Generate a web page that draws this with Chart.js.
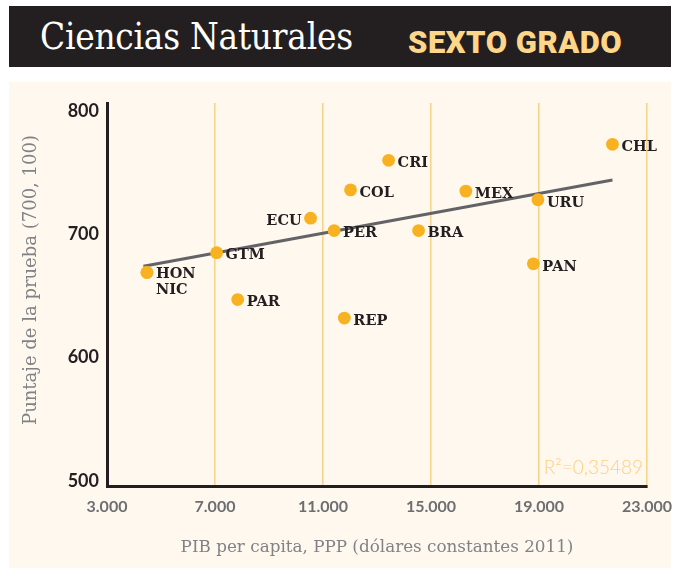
<!DOCTYPE html>
<html>
<head>
<meta charset="utf-8">
<script src="https://cdn.jsdelivr.net/npm/chart.js@4.4.0/dist/chart.umd.min.js"></script>
<style>
  html, body { margin:0; padding:0; background:#ffffff; }
  body { width:679px; height:571px; position:relative; overflow:hidden; }
  #band { position:absolute; left:9px; top:6px; width:662px; height:61px; background:#231f20; }
  #title { position:absolute; left:31px; top:9px; font-family:"DejaVu Serif"; font-size:37px; color:#ffffff; white-space:nowrap; transform-origin:left top; transform:scaleX(0.89); letter-spacing:-0.3px; }
  #grade { position:absolute; left:399px; top:18px; font-family:Roboto, "DejaVu Sans"; font-weight:900; font-size:31px; color:#fdd68a; white-space:nowrap; letter-spacing:0.5px; }
  #panel { position:absolute; left:9px; top:82px; width:662px; height:486px; background:#fef8ef; }
  #wrap { position:absolute; left:0; top:0; width:679px; height:571px; }
</style>
</head>
<body>
<div id="band"><div id="title">Ciencias Naturales</div><div id="grade">SEXTO GRADO</div></div>
<div id="panel"></div>
<div id="wrap"><canvas id="c" width="679" height="571"></canvas></div>
<script>
// ---- data ----
const countries = ['HON','NIC','GTM','PAR','ECU','PER','REP','COL','CRI','BRA','MEX','PAN','URU','CHL'];
const gdp       = [4480, 4480, 7060, 7840, 10540, 11410, 11790, 12020, 13430, 14540, 16290, 18790, 18960, 21720];
const score     = [669,  669,  685,  647,  713,   703,   632,   736,   760,   703,   735,   676,   728,   773];
const trendX    = [4350, 21720];
const trendY    = [674, 744];
const xTicks    = [3000, 7000, 11000, 15000, 19000, 23000];
const yTicks    = [500, 600, 700, 800];
const rSquared  = 'R\u00b2=0,35489';
const xTitle    = 'PIB per capita, PPP (dólares constantes 2011)';
const yTitle    = 'Puntaje de la prueba (700, 100)';

const points = countries.map((c, i) => ({x: gdp[i], y: score[i], label: c}));
const trend = trendX.map((x, i) => ({x: x, y: trendY[i]}));

const fmt = v => String(v).replace(/\B(?=(\d{3})+(?!\d))/g, '.');

const labelPlugin = {
  id: 'labels',
  afterDatasetsDraw(chart) {
    const ctx = chart.ctx;
    const meta = chart.getDatasetMeta(1);
    ctx.save();
    ctx.font = 'bold 14.5px "DejaVu Serif"';
    ctx.fillStyle = '#231f20';
    ctx.textBaseline = 'middle';
    meta.data.forEach((el, i) => {
      const name = points[i].label;
      let dx = 9, dy = 3, align = 'left';
      if (name === 'ECU') { dx = -9; align = 'right'; }
      if (name === 'HON') { dy = 2; }
      if (name === 'NIC') { dy = 18; }
      ctx.textAlign = align;
      ctx.fillText(name, el.x + dx, el.y + dy);
    });
    // R squared note
    const a = chart.chartArea;
    ctx.font = '300 19px Lato';
    ctx.fillStyle = '#fbd07c';
    ctx.textAlign = 'right';
    ctx.fillText(rSquared, a.right - 4, a.bottom - 18);
    // y-axis title
    ctx.translate(31, a.top + 177);
    ctx.rotate(-Math.PI / 2);
    ctx.font = '18px "DejaVu Serif"';
    ctx.fillStyle = '#808285';
    ctx.textAlign = 'center';
    ctx.fillText(yTitle, 0, 0);
    ctx.restore();
  }
};

new Chart(document.getElementById('c'), {
  type: 'scatter',
  data: {
    datasets: [
      {
        type: 'line',
        data: trend,
        borderColor: '#626366',
        borderWidth: 3,
        pointRadius: 0,
        fill: false,
        order: 2
      },
      {
        data: points,
        backgroundColor: '#f8b221',
        borderWidth: 0,
        pointRadius: 6.4,
        order: 1
      }
    ]
  },
  options: {
    responsive: false,
    animation: false,
    events: [],
    layout: { padding: { left: 9, top: 103, right: 32, bottom: 3 } },
    plugins: { legend: { display: false }, tooltip: { enabled: false } },
    scales: {
      x: {
        type: 'linear',
        min: 3000, max: 23000,
        afterBuildTicks: s => { s.ticks = xTicks.map(v => ({value: v})); },
        afterFit: s => { s.height = 82; s.paddingLeft = 0; s.paddingRight = 0; },
        grid: {
          color: ctx => ctx.index === 0 ? 'rgba(0,0,0,0)' : '#f8d48a',
          lineWidth: 1.6,
          drawTicks: false
        },
        border: { display: true, color: '#231f20', width: 3 },
        ticks: {
          padding: 11,
          color: '#6d6e71',
          font: { family: 'Lato', weight: 'bold', size: 16 },
          callback: v => fmt(v),
          maxRotation: 0
        },
        title: {
          display: true,
          text: xTitle,
          color: '#808285',
          font: { family: 'DejaVu Serif', size: 16.8 },
          padding: { top: 0, bottom: 10 }
        }
      },
      y: {
        type: 'linear',
        min: 495.7, max: 806.5,
        afterBuildTicks: s => { s.ticks = yTicks.map(v => ({value: v})); },
        afterFit: s => { s.width = 98; s.paddingTop = 0; s.paddingBottom = 0; },
        grid: { display: false, drawTicks: false },
        border: { display: true, color: '#231f20', width: 3 },
        ticks: {
          padding: 8,
          color: '#231f20',
          font: { family: 'Lato', weight: 'bold', size: 18 }
        }
      }
    }
  },
  plugins: [labelPlugin]
});
</script>
</body>
</html>
